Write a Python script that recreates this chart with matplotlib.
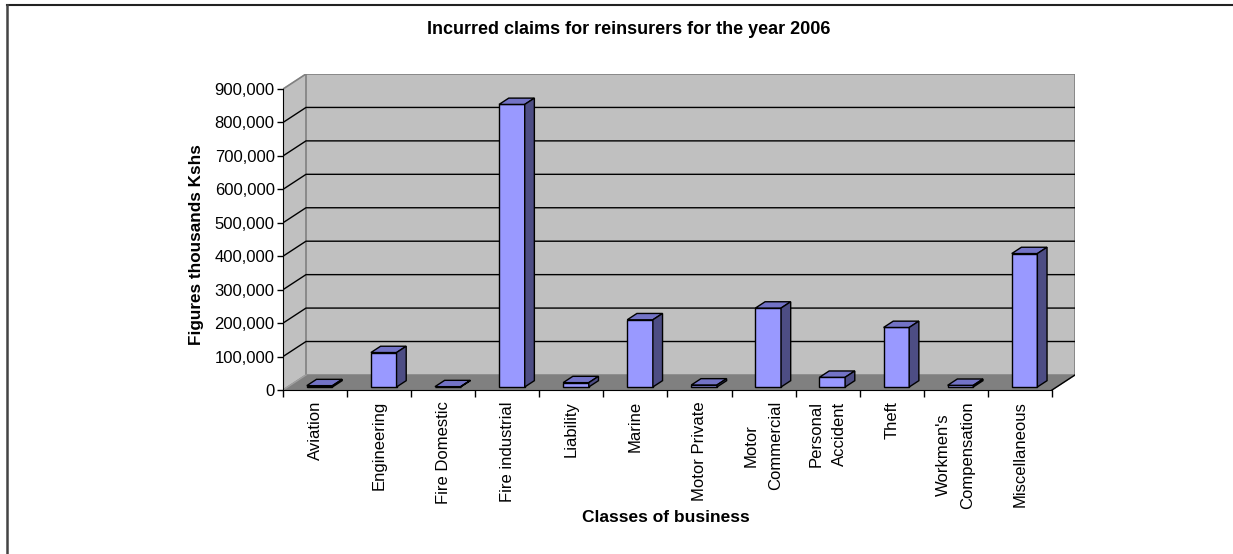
import matplotlib.pyplot as plt
from matplotlib.lines import Line2D
from matplotlib.ticker import FuncFormatter

plt.rcParams['font.family'] = ['Liberation Sans', 'DejaVu Sans']

# Incurred claims by class of business (thousands Kshs)
classes = ['Aviation', 'Engineering', 'Fire Domestic', 'Fire industrial',
           'Liability', 'Marine', 'Motor Private', 'Motor\nCommercial',
           'Personal\nAccident', 'Theft', "Workmen's\nCompensation",
           'Miscellaneous']
claims = [4000, 103000, 1000, 845000, 13000, 201000, 6000, 236000,
          29000, 178000, 5000, 399000]
yticks = list(range(0, 900001, 100000))

W, H = 1233, 554
fig = plt.figure(figsize=(W / 100, H / 100), dpi=100)

# plot box in pixels: front axis at x=283, floor front at y=390, wall top at y=74
x0, x1, ytop, ybot = 283, 1075, 74, 390
ax = fig.add_axes([x0 / W, (H - ybot) / H, (x1 - x0) / W, (ybot - ytop) / H])

n = len(classes)
dx = 0.359        # depth offset in category units
dy = 45000        # depth offset in value units
ymax = 900000
ax.set_xlim(0, n + dx)
ax.set_ylim(0, ymax + dy)
ax.patch.set_visible(False)

wall = '#c0c0c0'
edge = '#808080'

# back wall and left side wall
ax.fill([dx, n + dx, n + dx, dx], [dy, dy, ymax + dy, ymax + dy],
        color=wall, zorder=0)
ax.fill([0, dx, dx, 0], [0, dy, ymax + dy, ymax], color=wall, zorder=0)
ax.plot([dx, dx, n + dx, n + dx], [dy, ymax + dy, ymax + dy, dy],
        color=edge, lw=1.2, zorder=1)
ax.plot([0, dx], [ymax, ymax + dy], color=edge, lw=1.2, zorder=1)

# gridlines across side wall and back wall
for v in yticks[1:-1]:
    ax.plot([0, dx, n + dx], [v, v + dy, v + dy], color='black', lw=1, zorder=1)

# floor
ax.fill([0, n, n + dx, dx], [0, 0, dy, dy], color='#808080', zorder=2)
ax.plot([0, dx], [0, dy], color='#a0a0a0', lw=1, zorder=2)
ax.plot([n, n + dx], [0, dy], color='black', lw=1, zorder=2)

# 3-D columns
front_c, top_c, side_c = '#9999ff', '#7373c6', '#4d4d84'
f0, f1 = 0.2, 0.62
bw = 0.4
for i, v in enumerate(claims):
    xa = i + 0.5 - bw / 2 + f0 * dx
    xb = xa + bw
    ya = f0 * dy
    ox, oy = (f1 - f0) * dx, (f1 - f0) * dy
    ax.fill([xa, xb, xb, xa], [ya, ya, ya + v, ya + v],
            facecolor=front_c, edgecolor='black', lw=1, zorder=3)
    ax.fill([xa, xb, xb + ox, xa + ox], [ya + v, ya + v, ya + v + oy, ya + v + oy],
            facecolor=top_c, edgecolor='black', lw=1, zorder=3)
    ax.fill([xb, xb + ox, xb + ox, xb], [ya, ya + oy, ya + v + oy, ya + v],
            facecolor=side_c, edgecolor='black', lw=1, zorder=3)

# axes
for s in ['top', 'right']:
    ax.spines[s].set_visible(False)
ax.spines['left'].set_bounds(0, ymax)
ax.spines['bottom'].set_bounds(0, n)
ax.spines['left'].set_zorder(4)
ax.spines['bottom'].set_zorder(4)

ax.set_yticks(yticks)
ax.yaxis.set_major_formatter(FuncFormatter(lambda v, p: f'{int(v):,}'))
ax.tick_params(axis='y', direction='out', length=4, width=1, pad=2,
               labelsize=12)

ax.set_xticks(range(n + 1))
ax.set_xticklabels([])
ax.set_xticks([i + 0.5 for i in range(n)], minor=True)
ax.set_xticklabels(classes, minor=True, rotation=90, ha='center', va='top',
                   fontsize=12)
for t in ax.get_xticklabels(minor=True):
    t.set_multialignment('center')
    t.set_linespacing(1.75)
ax.tick_params(axis='x', which='major', direction='out', length=5, width=1)
ax.tick_params(axis='x', which='minor', length=0, pad=8)

fig.text(629 / W, 1 - 29 / H, 'Incurred claims for reinsurers for the year 2006',
         ha='center', va='center', fontsize=13, fontweight='bold')
fig.text(666 / W, 1 - 518 / H, 'Classes of business',
         ha='center', va='center', fontsize=12.5, fontweight='bold')
fig.text(196 / W, 1 - 245 / H, 'Figures thousands Kshs', rotation=90,
         ha='center', va='center', fontsize=12.3, fontweight='bold')

# chart area frame (top and left edges)
fig.add_artist(Line2D([7 / W, 1], [1 - 5 / H, 1 - 5 / H], color='#222222', lw=1.5))
fig.add_artist(Line2D([7 / W, 7 / W], [0, 1 - 5 / H], color='#444444', lw=1.8))

fig.savefig('out.png', dpi=100)
